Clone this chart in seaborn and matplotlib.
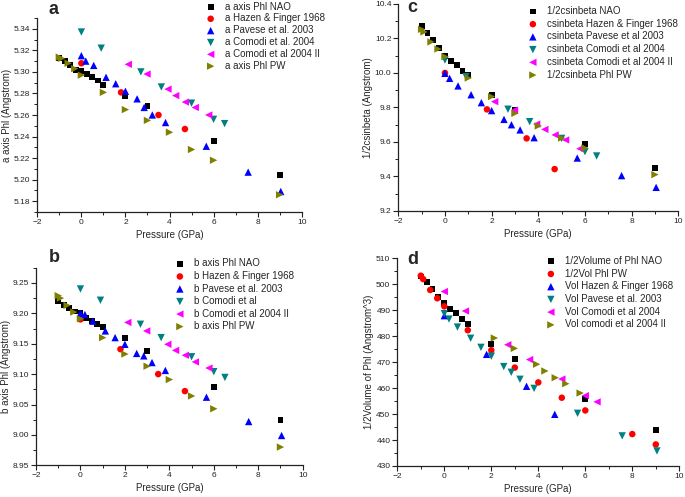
import numpy as np
import pandas as pd
import matplotlib
matplotlib.use("Agg")
import matplotlib.pyplot as plt
from matplotlib.ticker import MultipleLocator
import seaborn as sns

sns.set_theme(style="ticks")
plt.rcParams['font.family'] = ['Liberation Sans', 'DejaVu Sans']

# ---------------- data ----------------
# common pressure grids (GPa)
p_nao = [-1, -0.75, -0.5, -0.25, 0, 0.25, 0.5, 0.75, 1, 2, 3, 6, 9]
p_pw = [-1, -0.9, -0.6, -0.3, 0, 1, 2, 3, 4, 5, 6, 9]
p_pw_vol = [-1, -0.9, -0.6, -0.3, 0, 1, 2, 3, 4, 5, 6, 8, 9]
p_hazen = [0, 1.8, 3.5, 4.7]
p_pavese = [0, 0.2, 0.56, 1.12, 1.56, 2.0, 2.53, 2.85, 3.22, 3.82, 5.67, 7.57, 9.05]
p_comodi = [0, 0.9, 2.7, 3.63, 5.0, 6.0, 6.5]
p_comodi2 = [2.13, 2.98, 3.93, 4.28, 4.72, 5.17, 5.78]

# panel a : a axis
a_nao = [5.313, 5.310, 5.306, 5.302, 5.301, 5.298, 5.295, 5.292, 5.288, 5.278, 5.268, 5.236, 5.204]
a_hazen = [5.308, 5.281, 5.260, 5.247]
a_pavese = [5.315, 5.310, 5.306, 5.295, 5.289, 5.282, 5.275, 5.267, 5.260, 5.253, 5.231, 5.207, 5.189]
a_comodi = [5.337, 5.322, 5.300, 5.286, 5.271, 5.256, 5.252]
a_comodi2 = [5.307, 5.298, 5.284, 5.278, 5.272, 5.267, 5.260]
a_pw = [5.3137, 5.3125, 5.308, 5.303, 5.297, 5.281, 5.265, 5.255, 5.244, 5.228, 5.218, 5.186]

# panel b : b axis
b_nao = [9.220, 9.214, 9.208, 9.203, 9.200, 9.193, 9.187, 9.182, 9.177, 9.159, 9.138, 9.079, 9.024]
b_hazen = [9.190, 9.141, 9.100, 9.072]
b_pavese = [9.200, 9.198, 9.187, 9.171, 9.160, 9.149, 9.134, 9.130, 9.119, 9.106, 9.062, 9.022, 8.999]
b_comodi = [9.240, 9.2215, 9.182, 9.160, 9.1285, 9.104, 9.0945]
b_comodi2 = [9.185, 9.171, 9.149, 9.139, 9.131, 9.120, 9.110]
b_pw = [9.229, 9.225, 9.213, 9.202, 9.191, 9.160, 9.133, 9.113, 9.091, 9.064, 9.043, 8.980]

# panel c : 1/2 c sin(beta)
c_nao = [10.272, 10.233, 10.190, 10.147, 10.100, 10.070, 10.044, 10.012, 9.986, 9.870, 9.787, 9.588, 9.450]
c_hazen = [10.000, 9.789, 9.621, 9.443]
c_pavese = [9.998, 9.969, 9.925, 9.874, 9.828, 9.782, 9.731, 9.700, 9.670, 9.625, 9.507, 9.405, 9.337]
c_comodi = [10.075, 9.979, 9.790, 9.718, 9.621, 9.544, 9.519]
c_comodi2 = [9.834, 9.785, 9.704, 9.673, 9.641, 9.612, 9.561]
c_pw = [10.253, 10.238, 10.180, 10.139, 10.095, 9.971, 9.863, 9.766, 9.693, 9.623, 9.565, 9.411]

# panel d : 1/2 volume
d_nao = [503.0, 500.8, 498.1, 495.1, 492.7, 490.6, 488.8, 486.6, 484.6, 477.0, 471.3, 455.8, 443.9]
d_pw = [503.3, 502.0, 497.8, 494.6, 491.5, 482.3, 474.6, 467.9, 462.2, 456.3, 451.4, 442.3, 438.3]
d_hazen = [487.9, 473.0, 460.7, 449.9]
d_pavese = [488.7, 486.6, 483.5, 479.2, 475.7, 472.3, 468.3, 466.1, 463.4, 459.9, 450.3, 441.6, 435.8]
d_comodi = [497.2, 489.7, 476.7, 471.0, 463.5, 457.1, 454.7]
d_comodi2 = [479.3, 475.3, 469.2, 466.6, 464.0, 461.7, 458.1]

labels_a = ["a axis Phl NAO", "a Hazen & Finger 1968", "a Pavese et al. 2003",
            "a Comodi et al. 2004", "a Comodi et al 2004 II", "a axis Phl PW"]
labels_b = ["b axis Phl NAO", "b Hazen & Finger 1968", "b Pavese et al. 2003",
            "b Comodi et al", "b Comodi et al 2004 II", "b axis Phl PW"]
labels_c = ["1/2csinbeta NAO", "csinbeta Hazen & Finger 1968", "csinbeta Pavese et al 2003",
            "csinbeta Comodi et al 2004", "csinbeta Comodi et al 2004 II", "1/2csinbeta Phl PW"]
labels_d = ["1/2Volume of Phl NAO", "1/2Vol Phl PW", "Vol Hazen & Finger 1968",
            "Vol Pavese et al. 2003", "Vol Comodi et al 2004", "Vol comodi et al 2004 II"]

markers = ['s', 'o', '^', 'v', '<', '>']
colors = ['#000000', '#ff0000', '#0000ff', '#008080', '#ff00ff', '#808000']
sizes = [18, 22, 28, 28, 28, 28]

fig = plt.figure(figsize=(6.85, 4.97), dpi=100)

def make_ax(rect):
    ax = fig.add_axes(rect)
    ax.set_facecolor('white')
    for s in ['top', 'right']:
        ax.spines[s].set_visible(False)
    for s in ['left', 'bottom']:
        ax.spines[s].set_linewidth(0.9)
        ax.spines[s].set_color('#222222')
    ax.tick_params(which='major', direction='out', length=3.5, width=0.8, labelsize=6, pad=1.5, colors='#222222')
    ax.tick_params(which='minor', direction='out', length=2, width=0.7, colors='#222222')
    ax.xaxis.set_major_locator(MultipleLocator(2))
    ax.xaxis.set_minor_locator(MultipleLocator(1))
    ax.set_xlim(-2, 10)
    return ax

def draw(ax, series, labels):
    for (x, y), lab, m, c, s in zip(series, labels, markers, colors, sizes):
        df = pd.DataFrame({'P': x, 'v': y})
        sns.scatterplot(data=df, x='P', y='v', ax=ax, marker=m, color=c, s=s,
                        edgecolor='none', linewidth=0, label=lab, legend=True)

def legend(ax, x_px, y_px, spacing):
    ax.legend(loc='upper left', bbox_to_anchor=(x_px / 685, 1 - y_px / 497),
              bbox_transform=fig.transFigure, frameon=False, fontsize=7,
              handlelength=1.0, handletextpad=1.0, borderpad=0, borderaxespad=0,
              labelspacing=spacing, scatterpoints=1)

# ---- panel a
axa = make_ax([37.3/685, 1-212/497, (301.7-37.3)/685, (212-18)/497])
draw(axa, [(p_nao, a_nao), (p_hazen, a_hazen), (p_pavese, a_pavese),
           (p_comodi, a_comodi), (p_comodi2, a_comodi2), (p_pw, a_pw)], labels_a)
axa.set_ylim(5.17, 5.35)
axa.yaxis.set_major_locator(MultipleLocator(0.02))
axa.yaxis.set_minor_locator(MultipleLocator(0.01))
axa.yaxis.set_major_formatter(matplotlib.ticker.FormatStrFormatter('%.2f'))
axa.set_xlabel("Pressure (GPa)", fontsize=7, labelpad=3)
axa.set_ylabel("a axis Phl (Angstrom)", fontsize=7, labelpad=1.5)
legend(axa, 205.8, 1.5, 0.19)
fig.text(48/685, 1-9/497, "a", fontsize=13, fontweight='bold', va='center', ha='left')

# ---- panel c
axc = make_ax([398.3/685, 1-211/497, (678.3-398.3)/685, (211-4)/497])
draw(axc, [(p_nao, c_nao), (p_hazen, c_hazen), (p_pavese, c_pavese),
           (p_comodi, c_comodi), (p_comodi2, c_comodi2), (p_pw, c_pw)], labels_c)
axc.set_ylim(9.2, 10.4)
axc.yaxis.set_major_locator(MultipleLocator(0.2))
axc.yaxis.set_minor_locator(MultipleLocator(0.1))
axc.yaxis.set_major_formatter(matplotlib.ticker.FormatStrFormatter('%.1f'))
axc.set_xlabel("Pressure (GPa)", fontsize=7, labelpad=3)
axc.set_ylabel("1/2csinbeta (Angstrom)", fontsize=7, labelpad=1.5)
legend(axc, 528.0, 6.0, 0.28)
fig.text(407/685, 1-8/497, "c", fontsize=13, fontweight='bold', va='center', ha='left')

# ---- panel b
axb = make_ax([36/685, 1-465.3/497, (302.7-36)/685, (465.3-267.7)/497])
draw(axb, [(p_nao, b_nao), (p_hazen, b_hazen), (p_pavese, b_pavese),
           (p_comodi, b_comodi), (p_comodi2, b_comodi2), (p_pw, b_pw)], labels_b)
axb.set_ylim(8.95, 9.275)
axb.yaxis.set_major_locator(MultipleLocator(0.05))
axb.yaxis.set_minor_locator(MultipleLocator(0.025))
axb.yaxis.set_major_formatter(matplotlib.ticker.FormatStrFormatter('%.2f'))
axb.set_xlabel("Pressure (GPa)", fontsize=7, labelpad=3)
axb.set_ylabel("b axis Phl (Angstrom)", fontsize=7, labelpad=1.0)
legend(axb, 175.0, 258.5, 0.26)
fig.text(49/685, 1-257/497, "b", fontsize=13, fontweight='bold', va='center', ha='left')

# ---- panel d
axd = make_ax([397.3/685, 1-466/497, (679.3-397.3)/685, (466-258.3)/497])
draw(axd, [(p_nao, d_nao), (p_pw_vol, d_pw), (p_hazen, d_hazen),
           (p_pavese, d_pavese), (p_comodi, d_comodi), (p_comodi2, d_comodi2)], labels_d)
axd.set_ylim(430, 510)
axd.yaxis.set_major_locator(MultipleLocator(10))
axd.yaxis.set_minor_locator(MultipleLocator(5))
axd.set_xlabel("Pressure (GPa)", fontsize=7, labelpad=3)
axd.set_ylabel("1/2Volume of Phl (Angstrom^3)", fontsize=7, labelpad=1.5)
legend(axd, 546.0, 255.8, 0.28)
fig.text(407/685, 1-259/497, "d", fontsize=13, fontweight='bold', va='center', ha='left')

fig.savefig("out.png", dpi=100, facecolor='white')
